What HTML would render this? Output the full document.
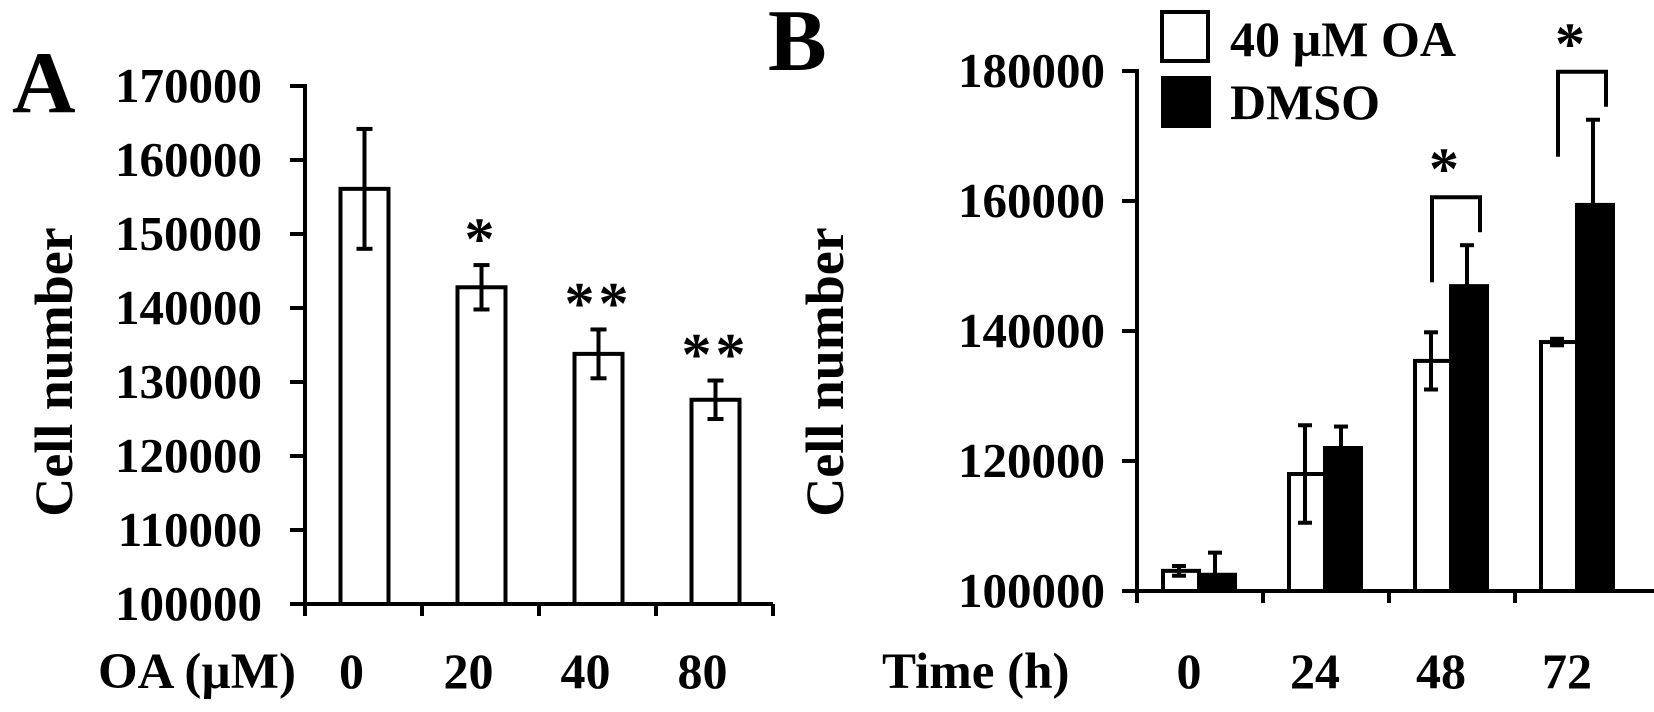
<!DOCTYPE html>
<html><head><meta charset="utf-8"><style>
html,body{margin:0;padding:0;background:#fff;}
svg{display:block;font-family:"Liberation Serif",serif;font-weight:bold;}
</style></head><body>
<svg id="chart" width="1654" height="712" viewBox="0 0 1654 712" xmlns="http://www.w3.org/2000/svg">
<g id="gA"></g>
<g id="gB"></g>
</svg>
<script>
// Panel A data
const catsA = ["0", "20", "40", "80"];
const valsA = [156100, 142800, 133800, 127600];
const errA = [8100, 3000, 3300, 2600];
const starsA = ["", "*", "**", "**"];
const ticksA = [100000, 110000, 120000, 130000, 140000, 150000, 160000, 170000];
// Panel B data
const catsB = ["0", "24", "48", "72"];
const valsOA = [103100, 118000, 135400, 138300];
const errOA = [750, 7500, 4400, 500];
const valsDMSO = [102500, 122000, 146900, 159400];
const errDMSO = [3400, 3300, 6300, 13100];
const sigB = [false, false, true, true];
const ticksB = [100000, 120000, 140000, 160000, 180000];

const NS = "http://www.w3.org/2000/svg";
function mk(parent, tag, attrs, text) {
  const e = document.createElementNS(NS, tag);
  for (const k in attrs) e.setAttribute(k, attrs[k]);
  if (text !== undefined) e.textContent = text;
  parent.appendChild(e);
  return e;
}
const S = {stroke: "#000", "stroke-width": 4, fill: "none"};
function line(p, x1, y1, x2, y2, name) {
  const e = mk(p, "line", Object.assign({x1, y1, x2, y2}, S));
  
  
  return e;
}
function txt(p, x, y, s, size, anchor, name, extra) {
  const e = mk(p, "text", Object.assign({x, y, "font-size": size, "text-anchor": anchor}, extra || {}), s);
  
  
  return e;
}
function errbar(p, x, yTop, yBot, cap, name, bottomCap) {
  line(p, x, yTop, x, yBot, name);
  line(p, x - cap, yTop, x + cap, yTop, name + "-cap");
  if (bottomCap) line(p, x - cap, yBot, x + cap, yBot, name + "-cap");
}

// ---------- Panel A ----------
const gA = document.getElementById("gA");
const axA = {x0: 305, y0: 604, cw: 117, ppu: 74 / 10000, min: 100000};
const yA = v => axA.y0 - (v - axA.min) * axA.ppu;
const xA = i => axA.x0 + axA.cw * (i + 0.5);
txt(gA, 12, 112, "A", 88, "start", "panel-a-label");
ticksA.forEach(t => {
  line(gA, axA.x0 - 15, yA(t), axA.x0, yA(t), "y-tick-a");
  txt(gA, 262, yA(t) + 16, String(t), 49, "end", "y-tick-label-a");
});
line(gA, axA.x0, yA(170000) - 2, axA.x0, axA.y0 + 2, "y-axis-a");
line(gA, axA.x0 - 15, axA.y0, axA.x0 + axA.cw * catsA.length, axA.y0, "x-axis-a");
for (let i = 0; i <= catsA.length; i++) line(gA, axA.x0 + axA.cw * i, axA.y0, axA.x0 + axA.cw * i, axA.y0 + 12, "x-tick-a");
catsA.forEach((c, i) => {
  const cx = xA(i) + 1, w = 48;
  const r = mk(gA, "rect", {x: cx - w / 2, y: yA(valsA[i]), width: w, height: axA.y0 - yA(valsA[i]), fill: "#fff", stroke: "#000", "stroke-width": 4});
  
  
  errbar(gA, cx, yA(valsA[i] + errA[i]), yA(valsA[i] - errA[i]), 8, "error-bar-a", true);
  if (starsA[i]) txt(gA, cx, yA(valsA[i] + errA[i]) - 6, starsA[i], 60, "middle", "significance-a", {"letter-spacing": "4"});
  txt(gA, xA(i) - 12, 688, c, 50, "middle", "x-tick-label-a");
});
txt(gA, 98, 688, "OA (\u00b5M)", 51, "start", "x-axis-title-a");
txt(gA, 0, 0, "Cell number", 54, "middle", "y-axis-title-a", {transform: "translate(72,372) rotate(-90)"});

// ---------- Panel B ----------
const gB = document.getElementById("gB");
const axB = {x0: 1137, y0: 591, cw: 126, ppu: 130 / 20000, min: 100000};
const yB = v => axB.y0 - (v - axB.min) * axB.ppu;
const xB = i => axB.x0 + axB.cw * i;
txt(gB, 768, 70, "B", 88, "start", "panel-b-label");
ticksB.forEach(t => {
  line(gB, axB.x0 - 15, yB(t), axB.x0, yB(t), "y-tick-b");
  txt(gB, 1105, yB(t) + 16, String(t), 49, "end", "y-tick-label-b");
});
line(gB, axB.x0, yB(180000) - 2, axB.x0, axB.y0 + 2, "y-axis-b");
line(gB, axB.x0 - 15, axB.y0, 1654, axB.y0, "x-axis-b");
for (let i = 0; i < catsB.length; i++) line(gB, xB(i), axB.y0, xB(i), axB.y0 + 12, "x-tick-b");
catsB.forEach((c, i) => {
  const w = 36, xw = xB(i) + 26, xk = xw + w;
  const r1 = mk(gB, "rect", {x: xw, y: yB(valsOA[i]), width: w, height: axB.y0 - yB(valsOA[i]), fill: "#fff", stroke: "#000", "stroke-width": 4});
  
  
  const r2 = mk(gB, "rect", {x: xk, y: yB(valsDMSO[i]), width: w, height: axB.y0 - yB(valsDMSO[i]), fill: "#000", stroke: "#000", "stroke-width": 4});
  
  
  errbar(gB, xw + w / 2 - 2, yB(valsOA[i] + errOA[i]), yB(valsOA[i] - errOA[i]), 7, "error-bar-oa", true);
  errbar(gB, xk + w / 2 - 2, yB(valsDMSO[i] + errDMSO[i]), yB(valsDMSO[i]), 7, "error-bar-dmso", false);
  if (sigB[i]) {
    const lx = xw + 17, rx = xk + 29;
    const top = yB(valsDMSO[i] + errDMSO[i]) - 48;
    const b = mk(gB, "polyline", Object.assign({points: `${lx},${top + 85} ${lx},${top} ${rx},${top} ${rx},${top + 35}`}, S));
    
    
    txt(gB, lx + 12, top - 8, "*", 60, "middle", "significance-b");
  }
  txt(gB, xB(i) + 52, 688, c, 50, "middle", "x-tick-label-b");
});
txt(gB, 882, 688, "Time (h)", 51, "start", "x-axis-title-b");
txt(gB, 0, 0, "Cell number", 54, "middle", "y-axis-title-b", {transform: "translate(843,372) rotate(-90)"});
// legend
const lg = mk(gB, "g", {});


const lb1 = mk(lg, "rect", {x: 1162, y: 12, width: 46, height: 49, fill: "#fff", stroke: "#000", "stroke-width": 4});


const lb2 = mk(lg, "rect", {x: 1162, y: 77, width: 48, height: 50, fill: "#000", stroke: "#000", "stroke-width": 2});


txt(lg, 1230, 56, "40 \u00b5M OA", 50, "start", "legend-label-oa");
txt(lg, 1230, 119, "DMSO", 50, "start", "legend-label-dmso");
</script>
</body></html>
